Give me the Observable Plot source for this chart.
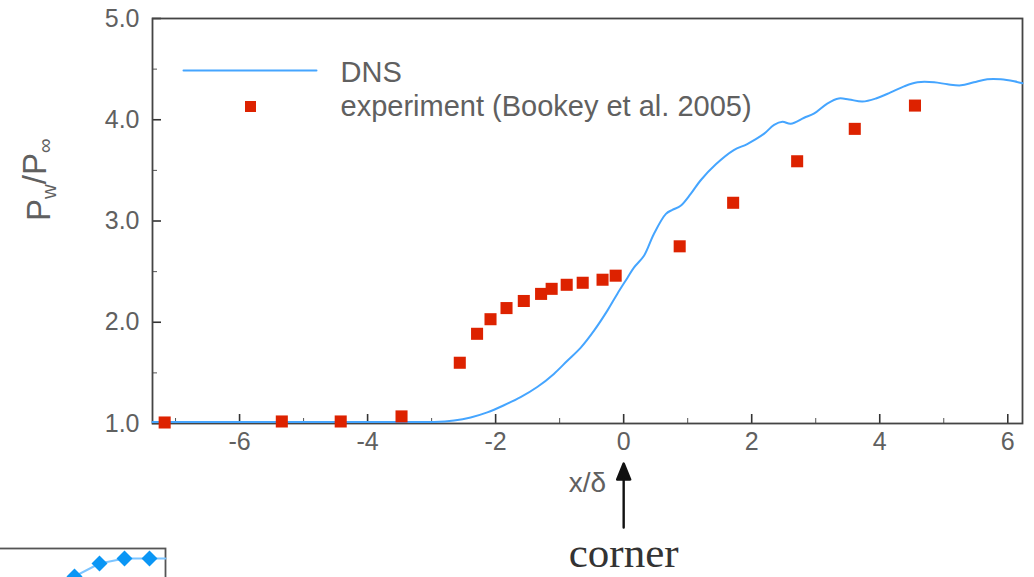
<!DOCTYPE html>
<html>
<head>
<meta charset="utf-8">
<script src="https://cdn.jsdelivr.net/npm/d3@7"></script>
<script src="https://cdn.jsdelivr.net/npm/@observablehq/plot@0.6"></script>
<style>
  html, body { margin: 0; padding: 0; background: #fff; overflow: hidden; }
  #wrap { position: relative; width: 1034px; height: 577px; overflow: hidden; background: #fff; }
  #main { position: absolute; left: 0; top: 0; }
  #inset { position: absolute; left: -10px; top: 540px; }
</style>
</head>
<body>
<div id="wrap"><div id="inset"></div><div id="main"></div></div>
<script>
// DNS wall-pressure curve (x/δ, Pw/P∞)
const dnsX = [-7.36, -6.5, -5.5, -4.5, -3.6, -3.17, -2.96, -2.65, -2.39, -2.13, -1.87, -1.61, -1.35, -1.09, -0.88, -0.67, -0.46, -0.25, -0.10, 0.06, 0.16, 0.32, 0.47, 0.66, 0.76, 0.89, 1.05, 1.20, 1.44, 1.72, 1.93, 2.19, 2.35, 2.48, 2.61, 2.82, 2.97, 3.18, 3.36, 3.52, 3.73, 3.94, 4.17, 4.38, 4.59, 4.85, 5.06, 5.27, 5.47, 5.68, 5.89, 6.10, 6.23];
const dnsY = [1.015, 1.015, 1.015, 1.015, 1.015, 1.015, 1.015, 1.03, 1.06, 1.11, 1.18, 1.26, 1.36, 1.49, 1.62, 1.75, 1.92, 2.12, 2.28, 2.44, 2.54, 2.66, 2.87, 3.07, 3.11, 3.15, 3.27, 3.40, 3.56, 3.70, 3.76, 3.86, 3.95, 3.98, 3.96, 4.02, 4.06, 4.16, 4.21, 4.20, 4.18, 4.21, 4.27, 4.33, 4.37, 4.37, 4.35, 4.34, 4.37, 4.40, 4.40, 4.38, 4.36];

// Experiment (Bookey et al. 2005)
const expX = [-7.17, -5.34, -4.42, -3.47, -2.56, -2.29, -2.08, -1.83, -1.56, -1.29, -1.125, -0.89, -0.64, -0.33, -0.125, 0.875, 1.71, 2.71, 3.61, 4.55];
const expY = [1.01, 1.02, 1.02, 1.07, 1.60, 1.886, 2.03, 2.14, 2.21, 2.28, 2.33, 2.37, 2.39, 2.42, 2.46, 2.75, 3.18, 3.59, 3.91, 4.14];

// Axis ticks
const xMajor = [-6, -4, -2, 0, 2, 4, 6];
const xMinor = [-7, -5, -3, -1, 1, 3, 5];
const yMajor = [1, 2, 3, 4, 5];
const yMinor = [1.5, 2.5, 3.5, 4.5];

// Legend & labels
const legendLabels = ["DNS", "experiment (Bookey et al. 2005)"];
const xLabel = "x/δ";
const yLabel = "Pw/P∞";
const cornerX = [0];
const cornerLabel = "corner";

// Fragment of a neighbouring panel (bottom-left)
const insetX = [1, 2, 3, 4];
const insetY = [0.28, 0.8, 1.0, 1.0];
const insetLineX = [1, 2, 3, 4, 4.64];
const insetLineY = [0.28, 0.8, 1.0, 1.0, 1.0];

const dns = dnsX.map((x, i) => ({x, y: dnsY[i]}));
const exp = expX.map((x, i) => ({x, y: expY[i]}));

const sans = "'Liberation Sans', Arial, Helvetica, sans-serif";
const grey = "#606060";
const blue = "#45a5ff";
const red = "#dd2200";

const lineShape = { draw(ctx, l) { ctx.moveTo(0, 0); ctx.lineTo(0, -l); } };
const arrowShape = {
  draw(ctx, l) {
    ctx.moveTo(0, 0); ctx.lineTo(0, -l + 14);
    ctx.moveTo(-6.5, -l + 16); ctx.lineTo(0, -l); ctx.lineTo(6.5, -l + 16); ctx.closePath();
  }
};

const chart = Plot.plot({
  width: 1034,
  height: 577,
  marginLeft: 152,
  marginRight: 12,
  marginTop: 18,
  marginBottom: 154,
  style: { fontFamily: sans, background: "transparent", overflow: "visible" },
  x: { domain: [-7.36, 6.23] },
  y: { domain: [1, 5] },
  marks: [
    // tick labels
    Plot.axisX(xMajor, { tickSize: 0, tickPadding: 9, tickFormat: d => String(d), fontSize: 25, fill: grey, label: null }),
    Plot.axisY(yMajor, { tickSize: 0, tickPadding: 13, tickFormat: d3.format(".1f"), fontSize: 25, fill: grey, label: null }),
    // inward ticks
    Plot.axisX(xMajor, { tickSize: -9, text: null, stroke: "#333", strokeWidth: 1.6, label: null }),
    Plot.axisX(xMinor, { tickSize: -5, text: null, stroke: "#555", strokeWidth: 1, label: null }),
    Plot.axisY(yMajor, { tickSize: -9, text: null, stroke: "#333", strokeWidth: 1.6, label: null }),
    Plot.axisY(yMinor, { tickSize: -5, text: null, stroke: "#555", strokeWidth: 1, label: null }),
    Plot.frame({ stroke: "#444", strokeWidth: 1.8 }),
    // data
    Plot.line(dns, { x: "x", y: "y", stroke: blue, strokeWidth: 2, curve: "catmull-rom" }),
    Plot.dot(exp, { x: "x", y: "y", symbol: "square", fill: red, r: 6.8, clip: false }),
    // legend
    Plot.vector([0], { frameAnchor: "top-left", dx: 31, dy: 52, rotate: 90, length: 133, anchor: "start", shape: lineShape, stroke: blue, strokeWidth: 2 }),
    Plot.dot([0], { frameAnchor: "top-left", dx: 98, dy: 88, symbol: "square", fill: red, r: 6.2 }),
    Plot.text([legendLabels[0]], { frameAnchor: "top-left", dx: 188, dy: 54, text: d => d, textAnchor: "start", lineAnchor: "middle", fontSize: 29, fill: grey }),
    Plot.text([legendLabels[1]], { frameAnchor: "top-left", dx: 188, dy: 88, text: d => d, textAnchor: "start", lineAnchor: "middle", fontSize: 29, fill: grey }),
    // axis titles
    Plot.text([xLabel], { frameAnchor: "bottom", dy: 60, text: d => d, lineAnchor: "middle", fontSize: 28, fill: grey }),
    Plot.text([yLabel], { frameAnchor: "left", dx: -113, text: d => d, rotate: -90, lineAnchor: "middle", fontSize: 33, fill: grey }),
    // corner annotation
    Plot.vector(cornerX, { x: d => d, frameAnchor: "bottom", dy: 104, length: 64, anchor: "start", rotate: 0, shape: arrowShape, stroke: "#111", fill: "#111", strokeWidth: 2.4 }),
    Plot.text(cornerX, { x: d => d, frameAnchor: "bottom", dy: 143, text: () => cornerLabel, lineAnchor: "bottom", fontSize: 43, fontFamily: "'Liberation Serif', 'Times New Roman', serif", fill: "#333" })
  ]
});

// subscripts in the y-axis title
d3.select(chart).selectAll("text").filter(function () { return this.textContent === yLabel; }).each(function () {
  const t = d3.select(this);
  t.text(null);
  t.append("tspan").text("P");
  t.append("tspan").attr("dy", "0.3em").attr("font-size", "0.62em").text("w");
  t.append("tspan").attr("dy", "-0.3em").text("/P");
  t.append("tspan").attr("dy", "0.3em").attr("font-size", "0.62em").text("∞");
});

document.getElementById("main").appendChild(chart);

const inset = Plot.plot({
  width: 185,
  height: 60,
  marginLeft: 0,
  marginRight: 10,
  marginTop: 8,
  marginBottom: 0,
  style: { background: "transparent" },
  x: { domain: [-2.36, 4.64], axis: null },
  y: { domain: [-0.68, 1.4], axis: null },
  marks: [
    Plot.frame({ stroke: "#555", strokeWidth: 1.8 }),
    Plot.line(insetLineX.map((x, i) => ({x, y: insetLineY[i]})), { x: "x", y: "y", stroke: "#7cc4ff", strokeWidth: 2 }),
    Plot.dot(insetX.map((x, i) => ({x, y: insetY[i]})), { x: "x", y: "y", symbol: "diamond2", fill: "#0a96f5", r: 7.2 })
  ]
});
document.getElementById("inset").appendChild(inset);
</script>
</body>
</html>
